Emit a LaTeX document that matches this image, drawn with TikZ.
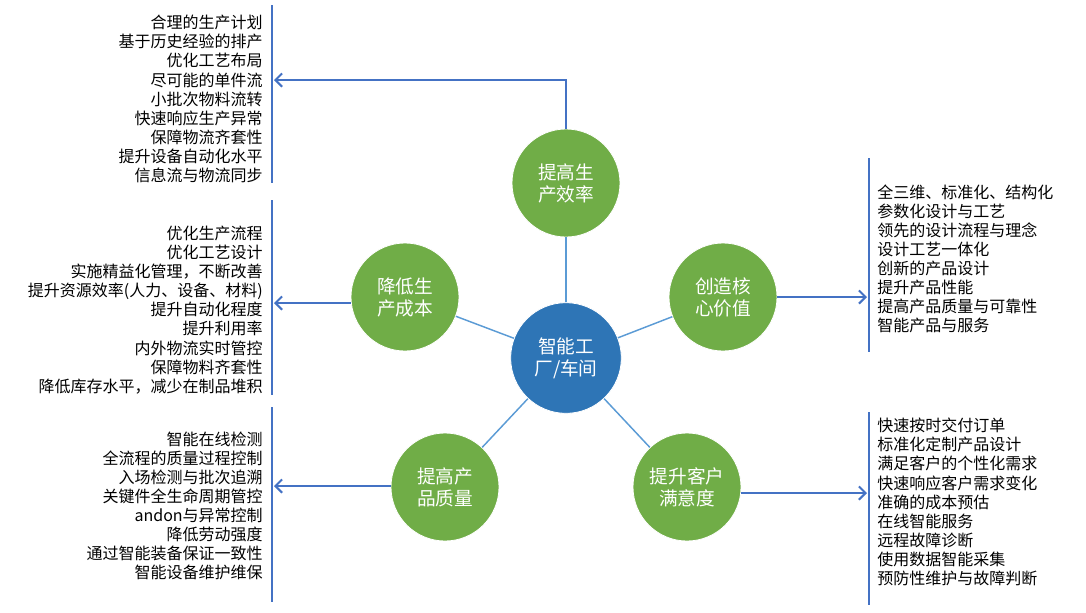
\documentclass[tikz,border=0pt]{standalone}
\usepackage{fontspec}
\setmainfont{Noto Sans CJK SC}
\usetikzlibrary{arrows.meta}
\definecolor{leafgreen}{HTML}{70AD47}
\definecolor{hubblue}{HTML}{2E75B6}
\definecolor{spokeblue}{HTML}{5B9BD5}
\definecolor{ruleblue}{HTML}{4472C4}

\begin{document}
\begin{tikzpicture}[x=0.75pt,y=-0.75pt,
  goal/.style={circle,fill=leafgreen,draw=white,line width=0.6pt,minimum size=81pt,inner sep=0pt,
    text=white,align=center,font=\fontsize{14pt}{16.5pt}\selectfont},
  hub/.style={goal,fill=hubblue,minimum size=83pt},
  spoke/.style={spokeblue,line width=1.1pt},
  pointer/.style={ruleblue,line width=1.5pt,-{Straight Barb[length=5pt,width=10pt]}},
  divider/.style={ruleblue,line width=1.5pt},
  items/.style={inner sep=0pt,font=\fontsize{12pt}{14.3pt}\selectfont}]
\useasboundingbox (0,0) rectangle (1086,612);

\node[hub] (hub) at (566,358) {智能工\\厂/车间};
\node[goal] (eff) at (566,183) {提高生\\产效率};
\node[goal] (cost) at (405,297) {降低生\\产成本};
\node[goal] (core) at (723,297) {创造核\\心价值};
\node[goal] (qual) at (445,487) {提高产\\品质量};
\node[goal] (cust) at (687,487) {提升客户\\满意度};

\foreach \g in {eff,cost,core,qual,cust}
  \draw[spoke] (hub) -- (\g);

\draw[divider] (272,5) -- (272,183);
\draw[divider] (272,200) -- (272,395);
\draw[divider] (272,407) -- (272,602);
\draw[divider] (869,158) -- (869,352);
\draw[divider] (869,412) -- (869,605);

\coordinate (effend) at (274,80);
\coordinate (costend) at (274,303);
\coordinate (qualend) at (274,486);
\coordinate (coreend) at (867,297);
\coordinate (custend) at (867,493);
\draw[pointer] (eff.north) |- (effend);
\draw[pointer] (cost.west |- costend) -- (costend);
\draw[pointer] (qual.west |- qualend) -- (qualend);
\draw[pointer] (core.east) -- (coreend);
\draw[pointer] (cust.east |- custend) -- (custend);

\node[items,align=right,anchor=east] (efflist) at (263,99)
  {合理的生产计划\\基于历史经验的排产\\优化工艺布局\\尽可能的单件流\\小批次物料流转\\快速响应生产异常\\保障物流齐套性\\提升设备自动化水平\\信息流与物流同步};
\node[items,align=right,anchor=east] (costlist) at (263,310)
  {优化生产流程\\优化工艺设计\\实施精益化管理，不断改善\\提升资源效率(人力、设备、材料)\\提升自动化程度\\提升利用率\\内外物流实时管控\\保障物料齐套性\\降低库存水平，减少在制品堆积};
\node[items,align=right,anchor=east] (quallist) at (263,506)
  {智能在线检测\\全流程的质量过程控制\\入场检测与批次追溯\\关键件全生命周期管控\\andon与异常控制\\降低劳动强度\\通过智能装备保证一致性\\智能设备维护维保};
\node[items,align=left,anchor=west] (corelist) at (877,259)
  {全三维、标准化、结构化\\参数化设计与工艺\\领先的设计流程与理念\\设计工艺一体化\\创新的产品设计\\提升产品性能\\提高产品质量与可靠性\\智能产品与服务};
\node[items,align=left,anchor=west] (custlist) at (877,502)
  {快速按时交付订单\\标准化定制产品设计\\满足客户的个性化需求\\快速响应客户需求变化\\准确的成本预估\\在线智能服务\\远程故障诊断\\使用数据智能采集\\预防性维护与故障判断};
\end{tikzpicture}
\end{document}
